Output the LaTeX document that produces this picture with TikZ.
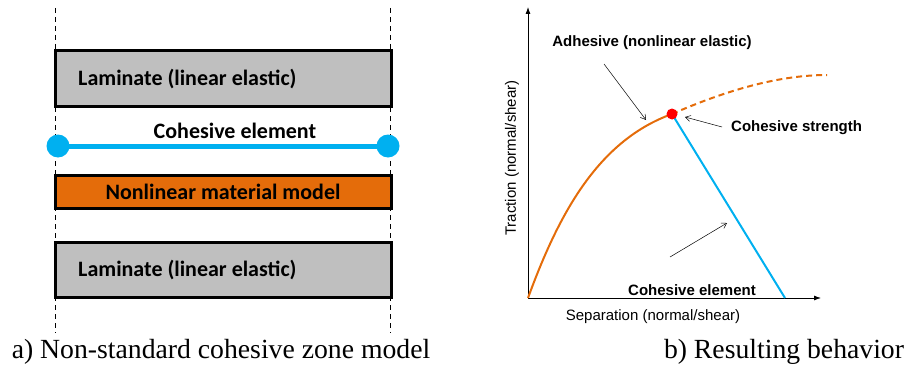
\documentclass[tikz,border=0pt]{standalone}
\usepackage{fontspec}
\setmainfont{Liberation Serif}
\newfontfamily\calib{Carlito}
\newfontfamily\arialf{Liberation Sans}
\usetikzlibrary{arrows.meta}
\definecolor{lamgray}{HTML}{BFBFBF}
\definecolor{cohblue}{HTML}{00B0F0}
\definecolor{nlorange}{HTML}{E46C0A}
\definecolor{dotred}{HTML}{FF0000}
\tikzset{
  lam/.style={draw=black, line width=3pt, fill=lamgray},
  nlbox/.style={draw=black, line width=3pt, fill=nlorange},
  boxtext/.style={font=\calib\bfseries\fontsize{22}{24}\selectfont, inner sep=0pt},
  guide/.style={line width=1pt, dash pattern=on 5pt off 4pt},
  axis/.style={line width=0.8pt, -{Latex[length=7pt,width=5pt]}},
  pointer/.style={line width=0.5pt, -{Straight Barb[length=5pt,width=6pt]}},
  plottext/.style={font=\arialf\bfseries\fontsize{15}{17}\selectfont, inner sep=0pt},
  axtext/.style={font=\arialf\fontsize{15}{17}\selectfont, inner sep=0pt},
  caption/.style={font=\fontsize{27.7}{30}\selectfont, inner sep=0pt},
  enddot/.style={circle, fill=cohblue, minimum size=23pt, inner sep=0pt},
}
\begin{document}
\begin{tikzpicture}[x=1pt,y=-1pt]
\useasboundingbox (0,0) rectangle (909,369);
% left panel
\coordinate (g1t) at (55,8); \coordinate (g1b) at (55,333);
\coordinate (g2t) at (390,8); \coordinate (g2b) at (390,333);
\draw[guide] (g1t) -- (g1b);
\draw[guide] (g2t) -- (g2b);
\draw[lam] (55,51) rectangle (391,106);
\node[boxtext, anchor=west] (lam1) at (78,79) {Laminate (linear elastic)};
\node[boxtext] (cohtxt) at (235,131) {Cohesive element};
\node[enddot] (d1) at (58,146) {};
\node[enddot] (d2) at (388,146) {};
\draw[cohblue, line width=5pt] (d1.center) -- (d2.center);
\draw[nlbox] (55,175) rectangle (391,208);
\node[boxtext] (nltxt) at (223,192) {Nonlinear material model};
\draw[lam] (55,242) rectangle (391,297);
\node[boxtext, anchor=west] (lam2) at (78,270) {Laminate (linear elastic)};
\node[caption] (capa) at (221,352) {a) Non-standard cohesive zone model};
% right panel
\coordinate (o) at (528,298);
\coordinate (yt) at (528,7);
\coordinate (xt) at (821,298);
\draw[axis] (o) -- (yt);
\draw[axis] (o) -- (xt);
\coordinate (pk) at (672,114);
\coordinate (end) at (785,298);
\coordinate (far) at (827,75);
\draw[nlorange, line width=2pt] (o) .. controls (560,210) and (600,140) .. (pk);
\draw[nlorange, line width=2pt, dash pattern=on 6pt off 4pt] (pk) .. controls (720,93) and (775,75) .. (far);
\draw[cohblue, line width=2pt] (pk) -- (end);
\node[circle, fill=dotred, minimum size=11pt, inner sep=0pt] (dot) at (pk) {};
\node[plottext] (adh) at (652,43) {Adhesive (nonlinear elastic)};
\coordinate (a1s) at (604,64); \coordinate (a1e) at (646,120);
\draw[pointer] (a1s) -- (a1e);
\node[plottext, anchor=west] (cs) at (731,128) {Cohesive strength};
\coordinate (a2s) at (722,127); \coordinate (a2e) at (685,117);
\draw[pointer] (a2s) -- (a2e);
\coordinate (a3s) at (670,257); \coordinate (a3e) at (727,223);
\draw[pointer] (a3s) -- (a3e);
\node[plottext] (ce) at (692,290) {Cohesive element};
\node[axtext] (sep) at (653,317) {Separation (normal/shear)};
\node[axtext, rotate=90] (trac) at (512,158) {Traction (normal/shear)};
\node[caption] (capb) at (784,352) {b) Resulting behavior};
\end{tikzpicture}
\end{document}
